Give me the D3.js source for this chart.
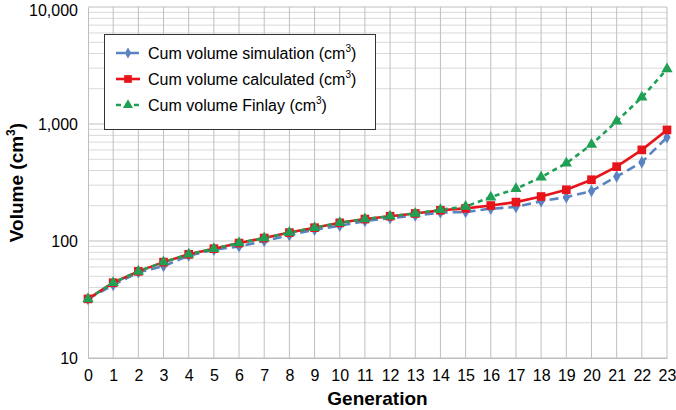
<!DOCTYPE html>
<html><head><meta charset="utf-8">
<script src="https://cdn.jsdelivr.net/npm/d3@7"></script>
<style>body{margin:0;background:#fff}svg{display:block;font-family:"Liberation Sans",Arial,sans-serif}</style>
</head><body>
<svg id="c" width="676" height="410"></svg>
<script>
const generations = d3.range(0, 24);
const simulation = [32,42,54,61,75,84,90,100,112,125,135,148,157,165,175,177,189,195,219,237,267,356,471,770];
const calculated = [32,44,55,66,77,86,96,106,118,130,143,154,163,172,183,190,201,215,240,274,334,432,601,890];
const finlay =     [32,44,55,66,77,86,96,106,118,130,143,154,163,172,185,197,237,279,351,462,667,1055,1690,2950];
const yTicks = [10,100,1000,10000];
const seriesNames = ["Cum volume simulation (cm", "Cum volume calculated (cm", "Cum volume Finlay (cm"];

const svg = d3.select("#c");
const m = {l:88, r:9, t:7, b:52};
const W = 676, H = 410;
const x = d3.scaleLinear().domain([0,23]).range([m.l, W-m.r]);
const y = d3.scaleLog().domain([10,10000]).range([H-m.b, m.t]);

// grid
const minor = [];
for (let d=10; d<10000; d*=10) for (let k=2;k<=9;k++) minor.push(d*k);
svg.append("g").selectAll("line").data(minor).join("line")
  .attr("x1",m.l).attr("x2",W-m.r).attr("y1",d=>y(d)).attr("y2",d=>y(d))
  .attr("stroke","#d9d9d9").attr("stroke-width",1);
svg.append("g").selectAll("line").data(yTicks).join("line")
  .attr("x1",m.l).attr("x2",W-m.r).attr("y1",d=>y(d)).attr("y2",d=>y(d))
  .attr("stroke","#bfbfbf").attr("stroke-width",1);
svg.append("g").selectAll("line").data(generations.slice(1)).join("line")
  .attr("x1",d=>x(d)).attr("x2",d=>x(d)).attr("y1",y(10)).attr("y2",y(10000))
  .attr("stroke","#bfbfbf").attr("stroke-width",1);

// axes
const yAxis = svg.append("g").attr("transform",`translate(${m.l},0)`)
  .call(d3.axisLeft(y).tickValues(yTicks).tickFormat(d3.format(",")).tickSize(0).tickPadding(10));
yAxis.select(".domain").attr("stroke","#bfbfbf");
yAxis.selectAll("text").attr("font-size",16).attr("fill","#000").attr("font-family","Liberation Sans, Arial")
  .attr("dy",d=>d===10000?"0.5em":"0.32em");
const xAxis = svg.append("g").attr("transform",`translate(0,${y(10)})`)
  .call(d3.axisBottom(x).tickValues(generations).tickFormat(d3.format("d")).tickSize(0).tickPadding(12));
xAxis.select(".domain").attr("stroke","#bfbfbf");
xAxis.selectAll("text").attr("font-size",16).attr("fill","#000").attr("font-family","Liberation Sans, Arial");

svg.append("text").attr("x",(m.l+W-m.r)/2).attr("y",405).attr("text-anchor","middle")
  .attr("font-size",19).attr("font-weight","bold").text("Generation");
const yl = svg.append("text").attr("transform",`translate(23,${(m.t+H-m.b)/2}) rotate(-90)`)
  .attr("text-anchor","middle").attr("font-size",19).attr("font-weight","bold");
yl.append("tspan").text("Volume (cm");
yl.append("tspan").attr("font-size",12).attr("dy",-8).text("3");
yl.append("tspan").attr("dy",8).text(")");

const line = d3.line().x((d,i)=>x(generations[i])).y(d=>y(d));
const series = [
  {v:simulation, c:"#5a83c2", dash:"9,5", sym:d3.symbolDiamond, size:45},
  {v:calculated, c:"#e8141c", dash:null, sym:d3.symbolSquare, size:75},
  {v:finlay, c:"#1fa055", dash:"5,4", sym:d3.symbolTriangle, size:55}
];
series.forEach(s=>{
  svg.append("path").datum(s.v).attr("d",line).attr("fill","none").attr("stroke",s.c)
    .attr("stroke-width",2.6).attr("stroke-dasharray",s.dash);
});
series.forEach(s=>{
  svg.append("g").selectAll("path").data(s.v).join("path")
    .attr("transform",(d,i)=>`translate(${x(generations[i])},${y(d)})`)
    .attr("d",d3.symbol().type(s.sym).size(s.size)).attr("fill",s.c);
});

// legend
const lg = svg.append("g");
lg.append("rect").attr("x",104.5).attr("y",34.5).attr("width",271).attr("height",95)
  .attr("fill","#fff").attr("stroke","#333").attr("stroke-width",1);
series.forEach((s,i)=>{
  const yy = 53 + i*26;
  lg.append("line").attr("x1",116).attr("x2",140).attr("y1",yy).attr("y2",yy)
    .attr("stroke",s.c).attr("stroke-width",2.6).attr("stroke-dasharray",s.dash);
  lg.append("path").attr("transform",`translate(128,${yy})`)
    .attr("d",d3.symbol().type(s.sym).size(s.size*0.8)).attr("fill",s.c);
  const t = lg.append("text").attr("x",148).attr("y",yy+6).attr("font-size",16);
  t.append("tspan").text(seriesNames[i]);
  t.append("tspan").attr("font-size",10).attr("dy",-7).text("3");
  t.append("tspan").attr("dy",7).text(")");
});
</script>
</body></html>
